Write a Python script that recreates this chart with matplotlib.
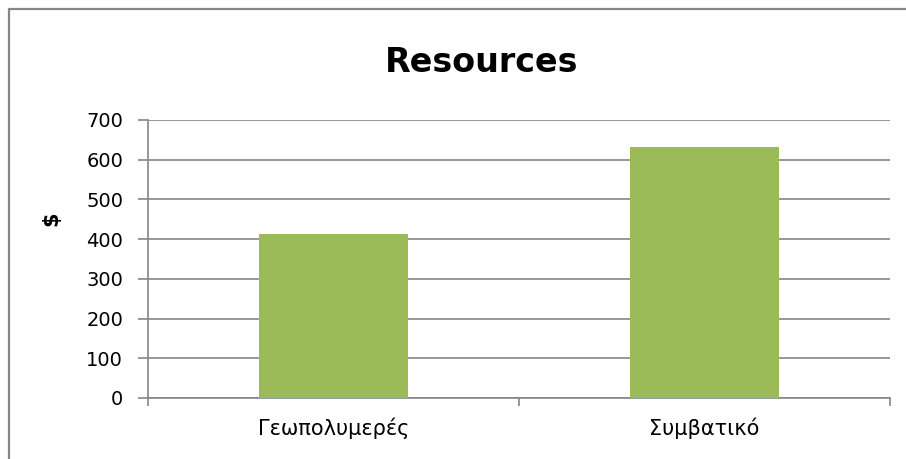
import matplotlib
matplotlib.use("Agg")
import matplotlib.pyplot as plt
from matplotlib.lines import Line2D

categories = ["Γεωπολυμερές", "Συμβατικό"]
costs = [413, 633]
yticks = [0, 100, 200, 300, 400, 500, 600, 700]

plt.rcParams['font.family'] = ['DejaVu Sans']
grey = "#868686"

fig = plt.figure(figsize=(9.06, 4.59), dpi=100)
ax = fig.add_axes([0.1634, 0.1329, 0.819, 0.6057])

x = list(range(len(categories)))
ax.bar(x, costs, width=0.4, color="#9BBB59", zorder=3)

ax.set_xlim(-0.5, len(categories) - 0.5)
ax.set_ylim(0, 700)
ax.set_yticks(yticks)
ax.set_yticklabels([str(v) for v in yticks], fontsize=14)

# category boundaries get the tick marks, centres get the labels
ax.set_xticks([i - 0.5 for i in range(len(categories) + 1)])
ax.set_xticklabels([])
ax.set_xticks(x, minor=True)
ax.set_xticklabels(categories, minor=True, fontsize=15)
ax.tick_params(axis="x", which="major", length=6, color=grey, width=1.2)
ax.tick_params(axis="x", which="minor", length=0, pad=14)
ax.tick_params(axis="y", length=7, color=grey, width=1.2, pad=11)

ax.grid(axis="y", color=grey, linewidth=1.2, zorder=0)
for side in ["top", "right"]:
    ax.spines[side].set_visible(False)
for side in ["left", "bottom"]:
    ax.spines[side].set_color(grey)
    ax.spines[side].set_linewidth(1.2)

fig.text(51 / 906, 1 - 219 / 459, "$", rotation=90, ha="center", va="center",
         fontsize=15, fontweight="bold")
fig.text(481.5 / 906, 1 - 72 / 459, "Resources", ha="center", va="baseline",
         fontsize=24, fontweight="bold")

# outer chart frame (left and top edges)
fig.lines.append(Line2D([9 / 906, 9 / 906, 1.0], [0.0, 1 - 9 / 459, 1 - 9 / 459],
                        transform=fig.transFigure, color=grey, linewidth=1.6))

fig.savefig("out.png", dpi=100)
